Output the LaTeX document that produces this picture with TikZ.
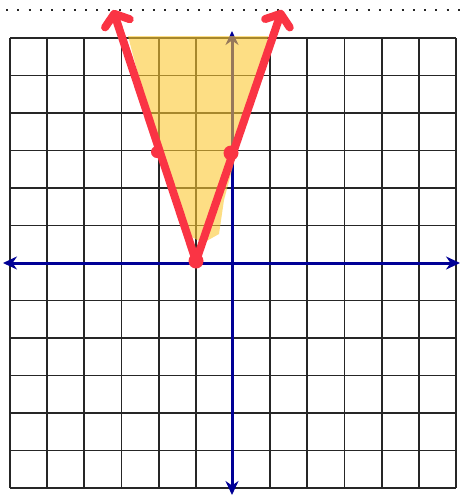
\documentclass[tikz,border=0pt]{standalone}
\usetikzlibrary{arrows.meta}
\definecolor{penred}{RGB}{250,52,68}
\definecolor{axisblue}{RGB}{0,0,150}
\definecolor{shade}{RGB}{252,200,50}
\begin{document}
\begin{tikzpicture}[x=1pt,y=-1pt,
  gridline/.style={line width=1.8pt, black!85},
  axisline/.style={line width=3pt, axisblue, -{Stealth[length=14pt,width=13pt]}},
  pen/.style={line width=8pt, penred, line cap=round, line join=round},
  penarrow/.style={pen, -{Straight Barb[length=10pt,width=26pt,round]}},
  pendot/.style={circle, fill=penred, inner sep=0pt, minimum size=15pt},
  shadefill/.style={fill=shade, fill opacity=0.6, draw=none},
  dotline/.style={line width=2pt, black!85, dash pattern=on 2pt off 9.3pt}]
\useasboundingbox[fill=white] (0,0) rectangle (461,496);
% dotted line at top
\draw[dotline] (6,10) -- (461,10);
% grid
\foreach \i in {0,...,12} {
  \draw[gridline] ({10+37.1667*\i},38) -- ({10+37.1667*\i},488);
  \draw[gridline] (10,{38+37.5*\i}) -- (456,{38+37.5*\i});
}
% axes
\coordinate (xl) at (10,263);
\coordinate (xr) at (456,263);
\coordinate (yt) at (232,38);
\coordinate (yb) at (232,488);
\draw[axisline] (xr) -- (3,263);
\draw[axisline] (xl) -- (460,263);
\draw[axisline] (yb) -- (232,31);
\draw[axisline] (yt) -- (232,495);
% shaded region
\fill[shadefill] (128,36) -- (268,36) -- (263,68) -- (240,140) -- (224,200)
  -- (219,234) -- (203,243) -- (190,236) -- (158,150) -- cycle;
% V graph
\coordinate (V) at (196,261);
\coordinate (L) at (157,152);
\coordinate (R) at (231,153);
\coordinate (LT) at (113,10);
\coordinate (RT) at (282,10);
\draw[penarrow] (V) -- (LT);
\draw[penarrow] (V) -- (RT);
\node[pendot] (vdot) at (V) {};
\node[pendot, minimum size=12pt] (ldot) at (L) {};
\node[pendot] (rdot) at (R) {};
\end{tikzpicture}
\end{document}
